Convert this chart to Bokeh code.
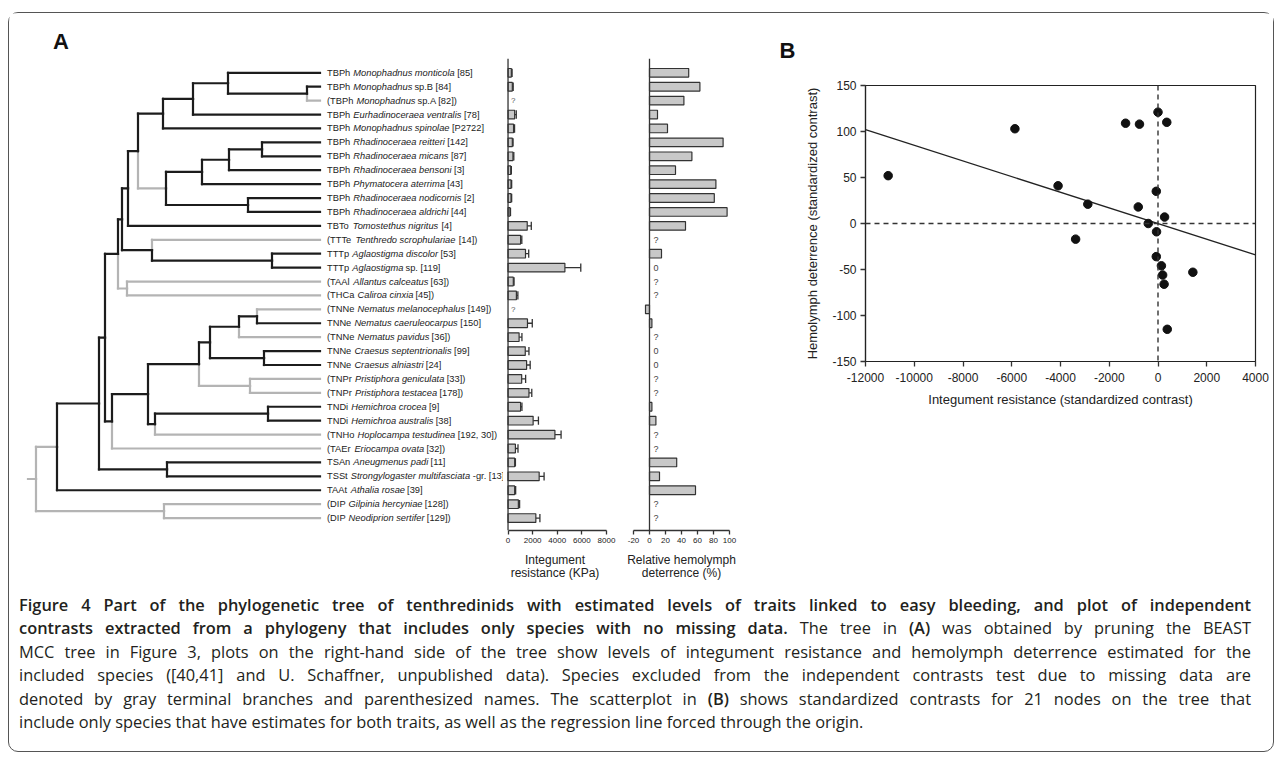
import math
from bokeh.plotting import figure
from bokeh.models import Range1d, FixedTicker, Span, Label, Div, ColumnDataSource
from bokeh.layouts import row, column
from bokeh.core.properties import value
from bokeh.embed import file_html
from bokeh.resources import INLINE

NaN = float("nan")

# ---------------- data ----------------
label_pre = ["TBPh ", "TBPh ", "(TBPh ", "TBPh ", "TBPh ", "TBPh ", "TBPh ", "TBPh ", "TBPh ",
             "TBPh ", "TBPh ", "TBTo ", "(TTTe ", "TTTp ", "TTTp ", "(TAAl ", "(THCa ", "(TNNe ",
             "TNNe ", "(TNNe ", "TNNe ", "TNNe ", "(TNPr ", "(TNPr ", "TNDi ", "TNDi ", "(TNHo ",
             "(TAEr ", "TSAn ", "TSSt ", "TAAt ", "(DIP ", "(DIP "]
label_ital = ["Monophadnus monticola", "Monophadnus", "Monophadnus", "Eurhadinoceraea ventralis",
              "Monophadnus spinolae", "Rhadinoceraea reitteri", "Rhadinoceraea micans",
              "Rhadinoceraea bensoni", "Phymatocera aterrima", "Rhadinoceraea nodicornis",
              "Rhadinoceraea aldrichi", "Tomostethus nigritus", "Tenthredo scrophulariae",
              "Aglaostigma discolor", "Aglaostigma", "Allantus calceatus", "Caliroa cinxia",
              "Nematus melanocephalus", "Nematus caeruleocarpus", "Nematus pavidus",
              "Craesus septentrionalis", "Craesus alniastri", "Pristiphora geniculata",
              "Pristiphora testacea", "Hemichroa crocea", "Hemichroa australis",
              "Hoplocampa testudinea", "Eriocampa ovata", "Aneugmenus padi",
              "Strongylogaster multifasciata", "Athalia rosae", "Gilpinia hercyniae",
              "Neodiprion sertifer"]
label_post = [" [85]", " sp.B [84]", " sp.A [82])", " [78]", " [P2722]", " [142]", " [87]", " [3]",
              " [43]", " [2]", " [44]", " [4]", " [14])", " [53]", " sp. [119]", " [63])", " [45])",
              " [149])", " [150]", " [36])", " [99]", " [24]", " [33])", " [178])", " [9]", " [38]",
              " [192, 30])", " [32])", " [11]", "-gr. [13]", " [39]", " [128])", " [129])"]

# integument resistance (KPa) and its error bar
integument = [270, 350, NaN, 540, 450, 350, 400, 220, 245, 245, 160, 1560, 1020, 1420, 4620, 430,
              680, NaN, 1580, 900, 1400, 1510, 1110, 1700, 1020, 2040, 3810, 600, 540, 2530, 540,
              840, 2260]
integument_err = [60, 70, 0, 130, 80, 60, 70, 50, 50, 50, 40, 330, 100, 260, 1290, 60, 120, 0,
                  390, 230, 300, 290, 320, 230, 110, 430, 500, 210, 60, 400, 80, 100, 330]
# relative hemolymph deterrence (%)
hemolymph = [49, 63, 43, 10, 22.5, 92, 53, 32.5, 83, 81, 97, 45, NaN, 15, 0, NaN, NaN, -5, 3, NaN,
             0, 0, NaN, NaN, 3, 8, NaN, NaN, 34, 12.5, 57.5, NaN, NaN]

# standardized contrasts
contrast_x = [-11070, -5870, -4100, -2880, -3380, -1330, -760, -810, -400, 0, 360, -70, 270, -60,
              -70, 140, 190, 250, 380, 1430]
contrast_y = [52, 103, 41, 21, -17, 109, 108, 18, 0, 121, 110, 35, 7, -9, -36, -46, -56, -66,
              -115, -53]
regression_slope = -0.0085

x_ticks_integ = [0, 2000, 4000, 6000, 8000]
x_ticks_hemo = [-20, 0, 20, 40, 60, 80, 100]
x_ticks_contrast = [-12000, -10000, -8000, -6000, -4000, -2000, 0, 2000, 4000]
y_ticks_contrast = [-150, -100, -50, 0, 50, 100, 150]

# tree: (node depth, [children], optional flag); leaves are row indices; tips at depth TIP
TIP = 284
STEM = -8
tree = (0, [
    (21, [
        (63, [
            (69, [
                (82, [
                    (86, [
                        (92, [
                            (102, [
                                (127, [
                                    (157, [(192, [0, (271, [1, 2])]), 3]),
                                    4]),
                                (130, [
                                    (166, [(193, [(226, [5, 6]), 7]), 8]),
                                    (212, [9, 10])], "gray"),
                            ]),
                            11]),
                        (116, [12, (236, [13, 14])]),
                    ]),
                    (91, [15, 16]),
                ]),
                (76, [
                    (112, [
                        (163, [
                            (174, [
                                (203, [(221, [17, 18]), 19]),
                                (228, [20, 21])]),
                            (214, [22, 23])]),
                        (119, [(232, [24, 25]), 26])]),
                    27]),
            ]),
            (131, [28, 29])]),
        30]),
    (128, [31, 32])])

# ---------------- layout constants ----------------
Y0, DY = 73.3, 13.915          # page y of first row, row spacing (px)
ROW_TOP, ROW_H = 14, 576
FRAME_TOP, FRAME_BOT = 59, 531
BLACK, GRAY = "#1c1c1c", "#b4b4b4"
FONT = value("Liberation Sans")
LBL_SIZE = 9.3
REG_F, ITA_F = 1.02, 1.01       # empirical width factors of the rendered label pieces
ITA_GAP = 1.5                   # extra room after the slanted italic piece
TREE_W = 494

ARIAL = {' ': 278, '(': 333, ')': 333, '[': 278, ']': 278, ',': 278, '.': 278, '-': 333}
for ch in "0123456789":
    ARIAL[ch] = 556
for ch, w in zip("ABCDEFGHIJKLMNOPQRSTUVWXYZ",
                 [667, 667, 722, 722, 667, 611, 778, 722, 278, 500, 667, 556, 833, 722, 778, 667,
                  778, 722, 667, 611, 722, 667, 944, 667, 667, 611]):
    ARIAL[ch] = w
for ch, w in zip("abcdefghijklmnopqrstuvwxyz",
                 [556, 556, 500, 556, 556, 278, 556, 556, 222, 222, 500, 222, 833, 556, 556, 556,
                  556, 333, 500, 278, 556, 500, 722, 500, 500, 500]):
    ARIAL[ch] = w


def text_w(s, size, f):
    return sum(ARIAL.get(c, 556) for c in s) * size / 1000.0 * f


def leaf_range(top_px, bot_px):
    return Range1d(start=(bot_px - Y0) / DY, end=(top_px - Y0) / DY)


n_rows = len(label_ital)
excluded = [p.startswith("(") for p in label_pre]
included = set(i for i in range(n_rows) if not excluded[i])

# ---------------- tree panel ----------------
tp = figure(width=TREE_W, height=ROW_H, x_range=Range1d(9.5 - 36, 9.5 + TREE_W - 36),
            y_range=leaf_range(ROW_TOP, ROW_TOP + ROW_H), toolbar_location=None,
            output_backend="svg", x_axis_location=None, y_axis_location=None,
            min_border_left=0, min_border_right=0, min_border_top=0, min_border_bottom=0,
            frame_align=False)
tp.outline_line_color = None
tp.grid.visible = False


def node_y(n):
    if isinstance(n, int):
        return float(n)
    return (node_y(n[1][0]) + node_y(n[1][-1])) / 2.0


def inc_leaves(n):
    if isinstance(n, int):
        return {n} if n in included else set()
    s = set()
    for c in n[1]:
        s |= inc_leaves(c)
    return s


segs = {k: dict(x0=[], y0=[], x1=[], y1=[]) for k in ("black", "gray")}


def add(k, x0, y0, x1, y1):
    segs[k]["x0"].append(x0); segs[k]["y0"].append(y0)
    segs[k]["x1"].append(x1); segs[k]["y1"].append(y1)


def walk(n):
    if isinstance(n, int):
        return
    d, yp = n[0], node_y(n)
    for c in n[1]:
        dc = TIP if isinstance(c, int) else c[0]
        yc = node_y(c)
        ic = inc_leaves(c)
        black = bool(ic) and bool(included - ic)
        if not isinstance(c, int) and len(c) > 2 and c[2] == "gray":
            black = False
        k = "black" if black else "gray"
        add(k, d, yp, d, yc)
        add(k, d, yc, dc, yc)
        walk(c)


walk(tree)
add("gray", STEM, node_y(tree), tree[0], node_y(tree))
for k, col in (("gray", GRAY), ("black", BLACK)):
    tp.segment(x0="x0", y0="y0", x1="x1", y1="y1", source=ColumnDataSource(segs[k]),
               line_color=col, line_width=2.2, line_cap="square")

rows = list(range(n_rows))
off_pre = [7.0] * n_rows
off_ital = [7.0 + text_w(p, LBL_SIZE, REG_F) for p in label_pre]
off_post = [off_ital[i] + text_w(label_ital[i], LBL_SIZE, ITA_F) + ITA_GAP for i in rows]
for txt, off, style in ((label_pre, off_pre, "normal"), (label_ital, off_ital, "italic"),
                        (label_post, off_post, "normal")):
    src = ColumnDataSource(dict(x=[TIP] * n_rows, y=rows, t=txt, o=off))
    tp.text(x="x", y="y", text="t", x_offset="o", source=src, text_font=FONT,
            text_font_size=f"{LBL_SIZE}px", text_font_style=style, text_color="#222",
            text_baseline="middle", text_align="left")

tp.add_layout(Label(x=61 - 36, y=(42 - Y0) / DY, text="A", text_font="Liberation Sans",
                    text_font_size="22px", text_font_style="bold", text_color="#111",
                    text_align="center", text_baseline="middle"))


# ---------------- bar panels ----------------
def style_xaxis(ax, ticks, label, tick_size):
    ax.ticker = FixedTicker(ticks=ticks)
    ax.major_label_overrides = {t: str(t) for t in ticks}
    ax.minor_tick_line_color = None
    ax.major_tick_in = 0
    ax.major_tick_out = 4
    ax.axis_line_color = "#333"
    ax.axis_line_width = 1.3
    ax.major_tick_line_color = "#333"
    ax.major_tick_line_width = 1.3
    ax.major_label_text_font = "Liberation Sans"
    ax.major_label_text_font_size = tick_size
    ax.major_label_text_color = "#222"
    if label:
        ax.axis_label = label
        ax.axis_label_text_font = "Liberation Sans"
        ax.axis_label_text_font_style = "normal"
        ax.axis_label_text_color = "#222"


def bar_panel(width, left, right, xr, ticks, bounds, label):
    p = figure(width=width, height=ROW_H, x_range=xr, y_range=leaf_range(FRAME_TOP, FRAME_BOT),
               toolbar_location=None, output_backend="svg", y_axis_location=None,
               min_border_left=left, min_border_right=right,
               min_border_top=FRAME_TOP - ROW_TOP, min_border_bottom=ROW_TOP + ROW_H - FRAME_BOT,
               frame_align=False)
    p.outline_line_color = None
    p.grid.visible = False
    ax = p.xaxis[0]
    style_xaxis(ax, ticks, label, "8px")
    ax.bounds = bounds
    ax.major_label_standoff = 3
    ax.axis_label_standoff = 7
    ax.axis_label_text_font_size = "12px"
    ax.axis_label_text_line_height = 0.95
    p.add_layout(Span(location=0, dimension="height", line_color="#333", line_width=1.3))
    return p


integ_left_px = 9.5 + TREE_W
ip = bar_panel(122 - (TREE_W - 491), 0, 16,
               Range1d(-(508 - integ_left_px) / (98 / 8000), 8000), x_ticks_integ, (0, 8000),
               "Integument\nresistance (KPa)")
ok = [i for i in rows if not math.isnan(integument[i])]
isrc = ColumnDataSource(dict(y=ok, v=[integument[i] for i in ok],
                             e=[integument[i] + integument_err[i] for i in ok],
                             lo=[i - 0.3 for i in ok], hi=[i + 0.3 for i in ok]))
ip.segment(x0="v", x1="e", y0="y", y1="y", source=isrc, line_color="#333", line_width=1.3)
ip.segment(x0="e", x1="e", y0="lo", y1="hi", source=isrc, line_color="#333", line_width=1.3)
ip.hbar(y="y", left=0, right="v", height=0.62, source=isrc, fill_color="#c8c8c8",
        line_color="#333", line_width=1.2)
miss = [i for i in rows if math.isnan(integument[i])]
ip.text(x=[0] * len(miss), y=miss, text=["?"] * len(miss), x_offset=3, text_font=FONT,
        text_font_size="8px", text_color="#555", text_baseline="middle")

hp = bar_panel(120, 11, 13, Range1d(-20, 100), x_ticks_hemo, (-20, 100),
               "Relative hemolymph\ndeterrence (%)")
hb = [i for i in rows if not math.isnan(hemolymph[i]) and hemolymph[i] != 0]
hp.hbar(y=hb, left=0, right=[hemolymph[i] for i in hb], height=0.62, fill_color="#c8c8c8",
        line_color="#333", line_width=1.2)
hq = [i for i in rows if math.isnan(hemolymph[i]) or hemolymph[i] == 0]
hp.text(x=[0] * len(hq), y=hq, text=["?" if math.isnan(hemolymph[i]) else "0" for i in hq],
        x_offset=4, text_font=FONT, text_font_size="9px", text_color="#444",
        text_baseline="middle")

# ---------------- scatter panel ----------------
sp = figure(width=531, height=ROW_H, x_range=Range1d(-12000, 4000), y_range=Range1d(-150, 150),
            toolbar_location=None, output_backend="svg", min_border_left=123,
            min_border_right=18, min_border_top=85 - ROW_TOP,
            min_border_bottom=ROW_TOP + ROW_H - 362, frame_align=False)
sp.grid.visible = False
sp.outline_line_color = "#222"
sp.outline_line_width = 1.2
style_xaxis(sp.xaxis[0], x_ticks_contrast, "Integument resistance (standardized contrast)", "12px")
style_xaxis(sp.yaxis[0], y_ticks_contrast, "Hemolymph deterrence (standardized contrast)", "12px")
for ax in (sp.xaxis[0], sp.yaxis[0]):
    ax.major_tick_out = 5
    ax.axis_label_text_font_size = "13px"
    ax.axis_line_color = "#222"
    ax.axis_line_width = 1.2
sp.xaxis[0].major_label_standoff = 6
sp.xaxis[0].axis_label_standoff = 7
sp.yaxis[0].major_label_standoff = 4
sp.yaxis[0].axis_label_standoff = 9
sp.add_layout(Span(location=0, dimension="height", line_color="#333", line_width=1.4,
                   line_dash="5 4"))
sp.add_layout(Span(location=0, dimension="width", line_color="#333", line_width=1.4,
                   line_dash="5 4"))
xe = [sp.x_range.start, sp.x_range.end]
sp.line(xe, [regression_slope * x for x in xe], line_color="#222", line_width=1.3)
sp.scatter(contrast_x, contrast_y, size=8.5, color="#111")
sp.title.text = "B"
sp.title.text_font = "Liberation Sans"
sp.title.text_font_size = "22px"
sp.title.text_font_style = "bold"
sp.title.text_color = "#111"
sp.title.align = "left"
sp.title.offset = -86
sp.title.standoff = 45

# ---------------- caption ----------------
J = "text-align:justify;text-align-last:justify;"
cap_lines = [
    "<b>Figure 4 Part of the phylogenetic tree of tenthredinids with estimated levels of traits "
    "linked to easy bleeding, and plot of independent</b>",
    "<b>contrasts extracted from a phylogeny that includes only species with no missing data.</b> "
    "The tree in <b>(A)</b> was obtained by pruning the BEAST",
    "MCC tree in Figure 3, plots on the right-hand side of the tree show levels of integument "
    "resistance and hemolymph deterrence estimated for the",
    "included species ([40,41] and U. Schaffner, unpublished data). Species excluded from the "
    "independent contrasts test due to missing data are",
    "denoted by gray terminal branches and parenthesized names. The scatterplot in <b>(B)</b> "
    "shows standardized contrasts for 21 nodes on the tree that",
    "include only species that have estimates for both traits, as well as the regression line "
    "forced through the origin.",
]
html = ("<div style=\"font-family:'Open Sans';font-size:16.4px;color:#231f20;line-height:23.4px;"
        "width:1242px;padding:4px 0 0 10px;\">")
for i, ln in enumerate(cap_lines):
    st = J if i < len(cap_lines) - 1 else "text-align:left;"
    ln = ln.replace("<b>", "<b style=\"font-weight:600\">")
    html += f"<div style=\"{st}\">{ln}</div>"
html += "</div>"
caption = Div(text=html, width=1264, height=162, margin=(0, 0, 0, 0))

top = row(tp, ip, hp, sp, spacing=0)
page = column(top, caption, spacing=0, margin=(12, 0, 0, 8),
              styles={"border": "1.5px solid #555", "border-radius": "10px"})

open("out.html", "w").write(file_html(page, INLINE))
